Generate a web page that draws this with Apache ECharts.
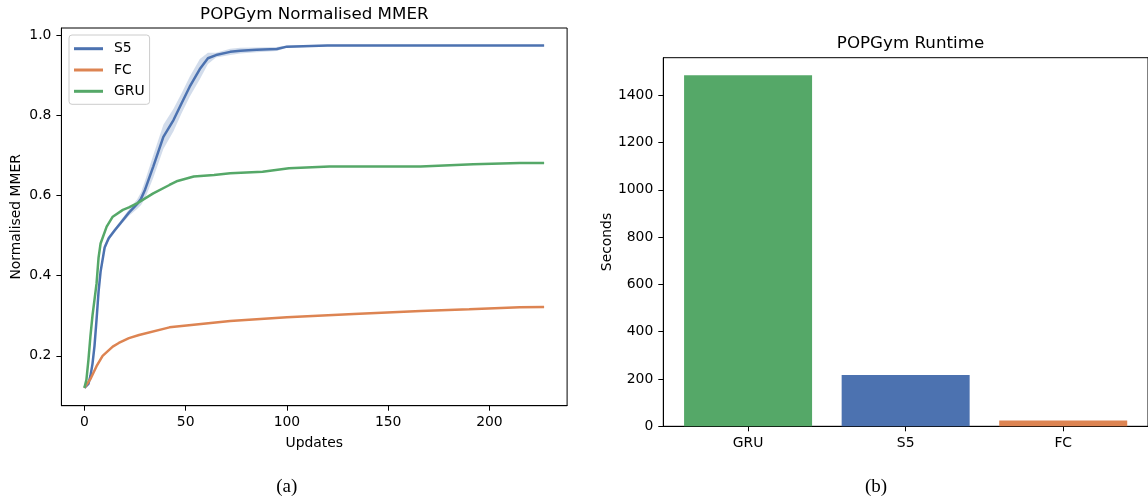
<!DOCTYPE html>
<html>
<head>
<meta charset="utf-8">
<script src="https://cdn.jsdelivr.net/npm/echarts@6/dist/echarts.min.js"></script>
<style>
  html, body { margin: 0; padding: 0; background: #fff; }
  #main { width: 1148px; height: 497px; }
</style>
</head>
<body>
<div id="main"></div>
<script>
// S5 mean curve + shaded band
const s5Updates = [0, 2, 3, 4, 5, 6, 7, 8, 10, 12, 15, 18, 22, 26, 28, 30, 34, 39, 44, 48, 52, 57, 61, 65, 72, 77, 85, 95, 100, 120, 227];
const s5Mmer = [0.120, 0.130, 0.150, 0.180, 0.225, 0.290, 0.360, 0.410, 0.470, 0.493, 0.513, 0.532, 0.557, 0.578, 0.592, 0.615, 0.672, 0.746, 0.788, 0.830, 0.871, 0.915, 0.942, 0.950, 0.958, 0.961, 0.963, 0.965, 0.971, 0.974, 0.974];
const s5Low = [0.120, 0.128, 0.146, 0.174, 0.217, 0.280, 0.350, 0.400, 0.462, 0.487, 0.508, 0.526, 0.549, 0.566, 0.576, 0.593, 0.644, 0.716, 0.760, 0.805, 0.846, 0.890, 0.928, 0.944, 0.950, 0.954, 0.957, 0.960, 0.968, 0.972, 0.973];
const s5High = [0.120, 0.132, 0.154, 0.186, 0.233, 0.300, 0.370, 0.420, 0.478, 0.499, 0.518, 0.538, 0.565, 0.590, 0.608, 0.637, 0.700, 0.776, 0.816, 0.855, 0.896, 0.940, 0.956, 0.956, 0.966, 0.968, 0.969, 0.970, 0.974, 0.976, 0.975];

const fcUpdates = [0, 3, 6, 9, 14, 17, 22, 27, 42, 72, 100, 133, 166, 190, 215, 227];
const fcMmer = [0.120, 0.142, 0.174, 0.200, 0.223, 0.232, 0.244, 0.252, 0.271, 0.287, 0.296, 0.304, 0.312, 0.316, 0.321, 0.322];

const gruUpdates = [0, 1, 2, 3, 4, 6, 7, 8, 11, 14, 19, 22, 26, 34, 42, 46, 54, 64, 72, 88, 101, 121, 166, 192, 215, 227];
const gruMmer = [0.120, 0.140, 0.190, 0.250, 0.300, 0.380, 0.445, 0.480, 0.522, 0.547, 0.564, 0.570, 0.580, 0.605, 0.626, 0.636, 0.647, 0.651, 0.655, 0.659, 0.668, 0.672, 0.672, 0.678, 0.681, 0.681];

const updateTicks = [0, 50, 100, 150, 200];
const mmerTicks = [0.2, 0.4, 0.6, 0.8, 1.0];

// runtime bars
const runtimeModels = ['GRU', 'S5', 'FC'];
const runtimeSeconds = [1485, 217, 25];
const secondTicks = [0, 200, 400, 600, 800, 1000, 1200, 1400];

const colors = { S5: '#4c72b0', FC: '#dd8452', GRU: '#55a868' };
const font = 'DejaVu Sans';
const tickSize = 13.9;

function pairs(xs, ys) {
  return xs.map((x, i) => [x, ys[i]]);
}

// shaded std band for S5, drawn as one polygon through the axes
function s5Band(params, api) {
  const pts = [];
  s5Updates.forEach((u, i) => pts.push(api.coord([u, s5High[i]])));
  for (let i = s5Updates.length - 1; i >= 0; i--) {
    pts.push(api.coord([s5Updates[i], s5Low[i]]));
  }
  return {
    type: 'polygon',
    shape: { points: pts },
    style: { fill: 'rgba(76,114,176,0.25)' }
  };
}

const axisCommon = {
  axisLine: { show: true, onZero: false, lineStyle: { color: '#000', width: 1 } },
  axisTick: { show: true, length: 5, lineStyle: { color: '#000', width: 1 } },
  splitLine: { show: false },
  nameTextStyle: { fontFamily: font, fontSize: tickSize, color: '#000' }
};

const chart = echarts.init(document.getElementById('main'), null, { renderer: 'canvas' });

chart.setOption({
  animation: false,
  backgroundColor: '#fff',
  grid: [
    { left: 61.4, right: 580.9, top: 28, bottom: 91.3, show: true, borderColor: '#000', borderWidth: 1 },
    { left: 663.3, right: -9.6, top: 57.7, bottom: 70.7, show: true, borderColor: '#000', borderWidth: 1 }
  ],
  xAxis: [
    Object.assign({}, axisCommon, {
      type: 'value', gridIndex: 0, min: -11.35, max: 238.35,
      name: 'Updates', nameLocation: 'middle', nameGap: 31,
      axisTick: Object.assign({}, axisCommon.axisTick, { customValues: updateTicks }),
      axisLabel: { customValues: updateTicks, margin: 10, fontFamily: font, fontSize: tickSize, color: '#000' }
    }),
    Object.assign({}, axisCommon, {
      type: 'value', gridIndex: 1, min: -0.538, max: 2.538,
      axisTick: Object.assign({}, axisCommon.axisTick, { customValues: [0, 1, 2] }),
      axisLabel: {
        customValues: [0, 1, 2], margin: 10, fontFamily: font, fontSize: tickSize, color: '#000',
        formatter: v => runtimeModels[Math.round(v)]
      }
    })
  ],
  yAxis: [
    Object.assign({}, axisCommon, {
      type: 'value', gridIndex: 0, min: 0.0756, max: 1.0175,
      name: 'Normalised MMER', nameLocation: 'middle', nameGap: 38, nameRotate: 90,
      axisTick: Object.assign({}, axisCommon.axisTick, { customValues: mmerTicks }),
      axisLabel: {
        customValues: mmerTicks, margin: 10, fontFamily: font, fontSize: tickSize, color: '#000',
        formatter: v => v.toFixed(1)
      }
    }),
    Object.assign({}, axisCommon, {
      type: 'value', gridIndex: 1, min: 0, max: 1559,
      name: 'Seconds', nameLocation: 'middle', nameGap: 47, nameRotate: 90,
      axisTick: Object.assign({}, axisCommon.axisTick, { customValues: secondTicks }),
      axisLabel: {
        customValues: secondTicks, margin: 10, fontFamily: font, fontSize: tickSize, color: '#000',
        formatter: v => String(v)
      }
    })
  ],
  legend: {
    data: ['S5', 'FC', 'GRU'],
    orient: 'vertical',
    left: 69, top: 35,
    padding: [5.7, 5, 5, 5],
    itemGap: 5.3,
    itemWidth: 29, itemHeight: 3,
    icon: 'rect',
    borderColor: '#cccccc', borderWidth: 1, borderRadius: 3,
    backgroundColor: 'rgba(255,255,255,0.8)',
    textStyle: { fontFamily: font, fontSize: tickSize, color: '#000', lineHeight: 16, padding: [0, 0, 0, 6] }
  },
  graphic: [
    { type: 'text', x: 314.3, y: 14.5, style: { text: 'POPGym Normalised MMER', font: '16.7px "DejaVu Sans"', fill: '#000', textAlign: 'center', textVerticalAlign: 'middle' } },
    { type: 'text', x: 910.5, y: 44, style: { text: 'POPGym Runtime', font: '16.7px "DejaVu Sans"', fill: '#000', textAlign: 'center', textVerticalAlign: 'middle' } },
    { type: 'text', x: 286.7, y: 487, style: { text: '(a)', font: '19px "Liberation Serif"', fill: '#000', textAlign: 'center', textVerticalAlign: 'middle' } },
    { type: 'text', x: 876, y: 487, style: { text: '(b)', font: '19px "Liberation Serif"', fill: '#000', textAlign: 'center', textVerticalAlign: 'middle' } }
  ],
  series: [
    {
      type: 'custom', xAxisIndex: 0, yAxisIndex: 0, silent: true,
      renderItem: s5Band, data: [[0, s5Low[0]]], z: 1
    },
    {
      name: 'S5', type: 'line', xAxisIndex: 0, yAxisIndex: 0, data: pairs(s5Updates, s5Mmer),
      showSymbol: false, color: colors.S5, lineStyle: { width: 2.5 }, z: 2
    },
    {
      name: 'FC', type: 'line', xAxisIndex: 0, yAxisIndex: 0, data: pairs(fcUpdates, fcMmer),
      showSymbol: false, color: colors.FC, lineStyle: { width: 2.5 }, z: 3
    },
    {
      name: 'GRU', type: 'line', xAxisIndex: 0, yAxisIndex: 0, data: pairs(gruUpdates, gruMmer),
      showSymbol: false, color: colors.GRU, lineStyle: { width: 2.5 }, z: 4
    },
    {
      type: 'bar', xAxisIndex: 1, yAxisIndex: 1, barWidth: 128,
      data: runtimeModels.map((m, i) => ({ value: [i, runtimeSeconds[i]], itemStyle: { color: colors[m] } }))
    }
  ]
});
</script>
</body>
</html>
